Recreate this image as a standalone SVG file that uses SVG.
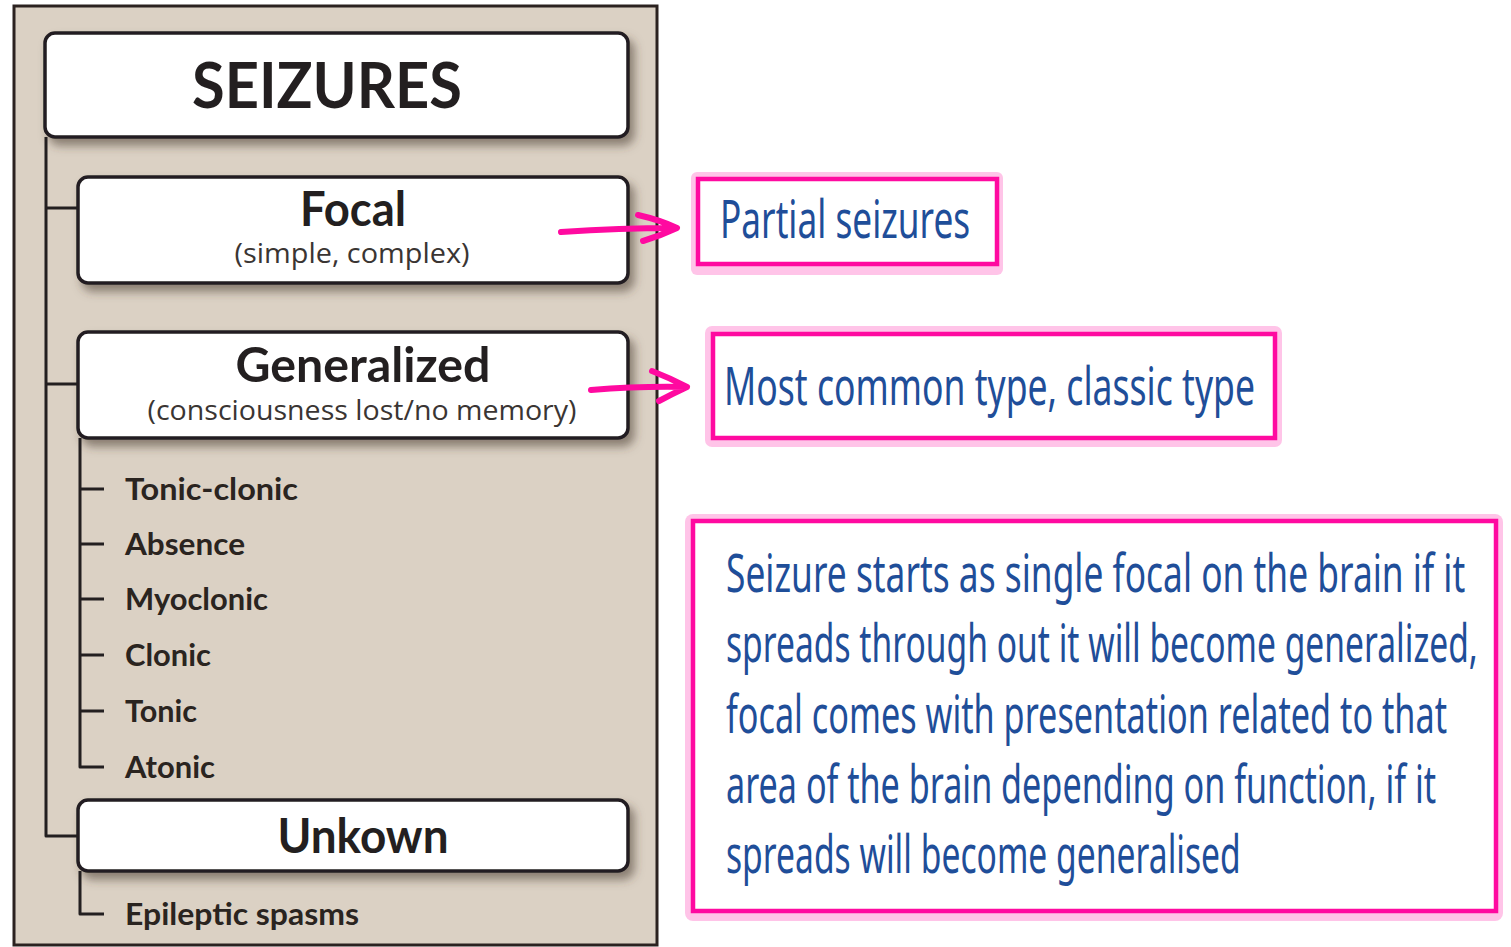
<svg xmlns="http://www.w3.org/2000/svg" width="1511" height="947" viewBox="0 0 1511 947">
<defs>
<style>
.node{fill:#ffffff;stroke:#231f20;stroke-width:3.5}
.title{font-family:Lato,"Open Sans","Liberation Sans",sans-serif;font-weight:700;fill:#231f20;text-anchor:middle}
.sub{font-family:"Open Sans","Liberation Sans",sans-serif;font-weight:400;fill:#3a3533;text-anchor:middle;font-size:28px}
.item{font-family:Lato,"Liberation Sans",sans-serif;font-weight:700;fill:#2a2420;font-size:30px}
.tree{fill:none;stroke:#231f20;stroke-width:3;stroke-linejoin:round}
.hand{font-family:"Noto Sans","DejaVu Sans",sans-serif;font-weight:400;fill:#1f4e99;font-size:52px}
.outer{fill:#ffc4e8}
.mag{fill:#ffffff;stroke:#ff0aa0;stroke-width:4.5}
.arrow{fill:none;stroke:#ff0aa0;stroke-width:6;stroke-linecap:round;stroke-linejoin:round}
</style>
<filter id="sh" x="-10%" y="-20%" width="130%" height="160%">
<feDropShadow dx="5" dy="7" stdDeviation="5" flood-color="#4a3a30" flood-opacity="0.55"/>
</filter>
</defs>
<rect x="0" y="0" width="1511" height="947" fill="#ffffff"/>
<rect x="14" y="6" width="643" height="939" fill="#dbd1c4" stroke="#2b2220" stroke-width="3"/>

<g id="seizures">
<rect class="node" x="45" y="33" width="583" height="104" rx="10" filter="url(#sh)"/>
<text class="title" x="327" y="108" font-size="64" textLength="270" lengthAdjust="spacingAndGlyphs">SEIZURES</text>
</g>
<g id="focal">
<rect class="node" x="78" y="177" width="550" height="106" rx="10" filter="url(#sh)"/>
<text class="title" x="353" y="226" font-size="48" textLength="106" lengthAdjust="spacingAndGlyphs">Focal</text>
<text class="sub" x="352" y="263" textLength="235" lengthAdjust="spacingAndGlyphs">(simple, complex)</text>
</g>
<g id="generalized">
<rect class="node" x="78" y="332" width="550" height="106" rx="10" filter="url(#sh)"/>
<text class="title" x="363" y="382" font-size="48" textLength="255" lengthAdjust="spacingAndGlyphs">Generalized</text>
<text class="sub" x="362" y="420" textLength="429" lengthAdjust="spacingAndGlyphs">(consciousness lost/no memory)</text>
</g>
<g id="unknown">
<rect class="node" x="78" y="800" width="550" height="71" rx="10" filter="url(#sh)"/>
<text class="title" x="363" y="853" font-size="48" textLength="171" lengthAdjust="spacingAndGlyphs">Unkown</text>
</g>

<g id="tonic-clonic"><text class="item" x="125" y="500" textLength="173" lengthAdjust="spacingAndGlyphs">Tonic-clonic</text></g>
<g id="absence"><text class="item" x="125" y="555" textLength="120" lengthAdjust="spacingAndGlyphs">Absence</text></g>
<g id="myoclonic"><text class="item" x="125" y="610" textLength="143" lengthAdjust="spacingAndGlyphs">Myoclonic</text></g>
<g id="clonic"><text class="item" x="125" y="666" textLength="86" lengthAdjust="spacingAndGlyphs">Clonic</text></g>
<g id="tonic"><text class="item" x="125" y="722" textLength="72" lengthAdjust="spacingAndGlyphs">Tonic</text></g>
<g id="atonic"><text class="item" x="125" y="778" textLength="90" lengthAdjust="spacingAndGlyphs">Atonic</text></g>
<g id="epileptic-spasms"><text class="item" x="125" y="925" textLength="234" lengthAdjust="spacingAndGlyphs">Epileptic spasms</text></g>

<g id="note-partial">
<rect class="outer" x="691" y="172" width="312" height="103" rx="6"/>
<rect class="mag" x="698" y="179" width="299" height="85"/>
<text class="hand" transform="translate(720 238) scale(0.6 1)" x="0" y="0" textLength="417" lengthAdjust="spacingAndGlyphs">Partial seizures</text>
</g>
<g id="note-generalized">
<rect class="outer" x="705" y="326" width="577" height="121" rx="7"/>
<rect class="mag" x="713" y="334" width="562" height="104"/>
<text class="hand" transform="translate(724 405) scale(0.6 1)" x="0" y="0" textLength="885" lengthAdjust="spacingAndGlyphs">Most common type, classic type</text>
</g>
<g id="note-spread">
<rect class="outer" x="685" y="514" width="818" height="407" rx="8"/>
<rect class="mag" x="693" y="521" width="803" height="390"/>
<text class="hand" transform="translate(726 592) scale(0.55 1)" x="0" y="0" textLength="1344" lengthAdjust="spacingAndGlyphs">Seizure starts as single focal on the brain if it</text>
<text class="hand" transform="translate(726 662) scale(0.55 1)" x="0" y="0" textLength="1367" lengthAdjust="spacingAndGlyphs">spreads through out it will become generalized,</text>
<text class="hand" transform="translate(726 733) scale(0.55 1)" x="0" y="0" textLength="1311" lengthAdjust="spacingAndGlyphs">focal comes with presentation related to that</text>
<text class="hand" transform="translate(726 803) scale(0.55 1)" x="0" y="0" textLength="1291" lengthAdjust="spacingAndGlyphs">area of the brain depending on function, if it</text>
<text class="hand" transform="translate(726 873) scale(0.55 1)" x="0" y="0" textLength="936" lengthAdjust="spacingAndGlyphs">spreads will become generalised</text>
</g>

<g id="connectors">
<path class="tree" d="M46 137 V836 H78"/>
<path class="tree" d="M46 208 H78"/>
<path class="tree" d="M46 384 H78"/>
<path class="tree" d="M80 438 V767 H104"/>
<path class="tree" d="M80 489 H104 M80 544 H104 M80 599 H104 M80 655 H104 M80 711 H104"/>
<path class="tree" d="M80 871 V914 H104"/>
<path class="arrow" d="M561 232 Q620 228 675 228 M638 215 Q660 220 677 228 Q660 236 643 241"/>
<path class="arrow" d="M591 390 Q640 386 686 387 M652 371 Q670 378 687 387 Q672 394 659 401"/>
</g>
</svg>
